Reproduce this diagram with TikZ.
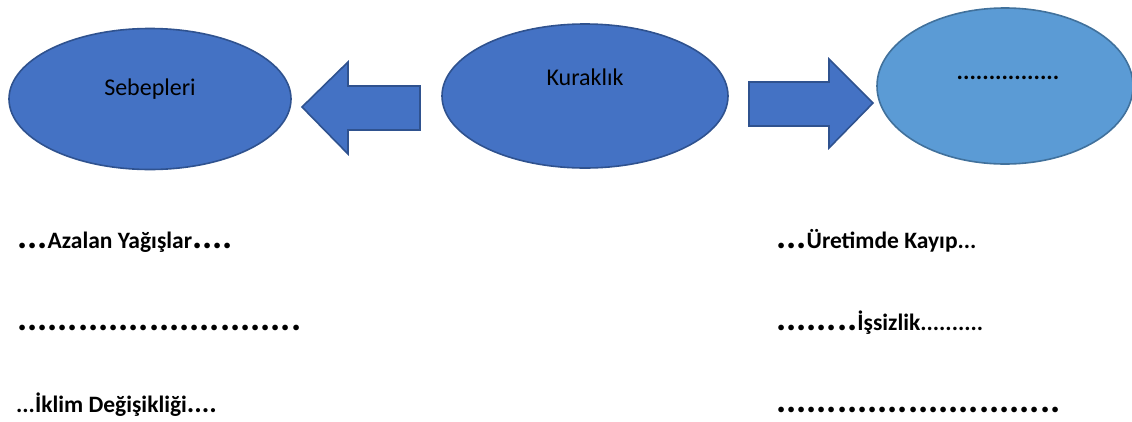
\documentclass[tikz,border=0pt]{standalone}
\usepackage{fontspec}
\setmainfont{Carlito}
\usetikzlibrary{shapes.geometric}
\newcommand{\bigdots}[1]{{\fontsize{38}{38}\selectfont\foreach \i in {1,...,#1}{.}}}
\newcommand{\middots}[1]{{\fontsize{28}{28}\selectfont\foreach \i in {1,...,#1}{.}}}
\newcommand{\smdots}[1]{{\foreach \i in {1,...,#1}{.}}}
\tikzset{
  oval/.style={ellipse, draw=ovalborder, line width=1.6pt, fill=ovalfill, inner sep=0pt},
  blockarrow/.style={draw=ovalborder, line width=1.6pt, fill=ovalfill},
  lbl/.style={anchor=base, font=\fontsize{24}{24}\selectfont, inner sep=0pt},
  item/.style={anchor=base west, font=\bfseries\fontsize{23.5}{23.5}\selectfont, inner sep=0pt},
}
\definecolor{ovalfill}{HTML}{4472C4}
\definecolor{ovalborder}{HTML}{2F528F}
\definecolor{lightfill}{HTML}{5B9BD5}
\definecolor{lightborder}{HTML}{41719C}
\begin{document}
\begin{tikzpicture}[x=1pt,y=-1pt]
\useasboundingbox (0,0) rectangle (1132,421);
% ovals
\node[oval, minimum width=282, minimum height=141] (seb) at (150,99) {};
\node[oval, minimum width=286, minimum height=144] (kur) at (585,96) {};
\node[oval, draw=lightborder, fill=lightfill, minimum width=256, minimum height=156] (res) at (1005,86) {};
\node[lbl] (sebt) at (150,95) {Sebepleri};
\node[lbl] (kurt) at (585,85) {Kuraklık};
\node[lbl, font=\bfseries\fontsize{24}{24}\selectfont] (rest) at (1008,79) {\smdots{16}};
% block arrows
\draw[blockarrow] (420,86) -- (348,86) -- (348,62) -- (302,107) -- (348,154) -- (348,130) -- (420,130) -- cycle;
\coordinate (la) at (302,107);
\draw[blockarrow] (749,82) -- (829,82) -- (829,59) -- (873,103) -- (829,148) -- (829,126) -- (749,126) -- cycle;
\coordinate (ra) at (873,103);
% left column
\node[item] (a1) at (17,248) {\bigdots{3}Azalan Yağışlar\bigdots{4}};
\node[item] (a2) at (17,330) {\bigdots{28}};
\node[item] (a3) at (16,412) {\smdots{3}İklim Değişikliği\middots{4}};
% right column
\node[item] (b1) at (776,248) {\bigdots{3}Üretimde Kayıp\smdots{3}};
\node[item] (b2) at (776,330) {\bigdots{8}İşsizlik\smdots{10}};
\node[item] (b3) at (776,412) {\bigdots{28}};
\end{tikzpicture}
\end{document}
